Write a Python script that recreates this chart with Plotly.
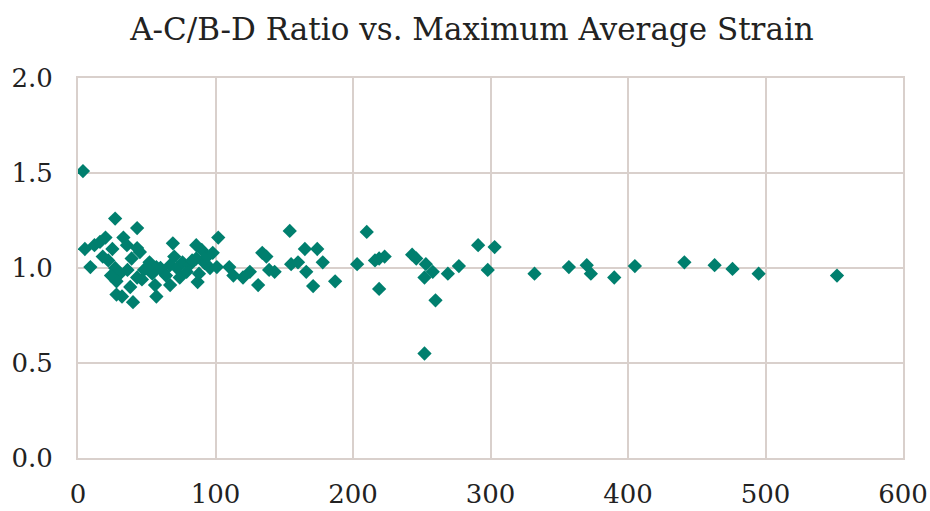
import plotly.graph_objects as go

strain = [
    3.6, 27, 43, 5, 9, 12, 16, 20, 33, 35.6, 43, 45, 69, 86, 102, 18, 22,
    27, 30.5, 36, 39, 28, 43, 46.5, 52, 57, 62, 67, 72, 76, 81, 86, 90, 92, 96, 101,
    56, 67, 74, 87, 28, 32, 40, 57, 110, 113,
    48, 54, 60, 64, 79, 83, 88, 94, 98, 38, 50, 70, 25, 24,
    154, 210, 165, 174, 134, 137, 243, 246, 155, 160, 178, 139, 143, 166, 203,
    216, 219, 223, 291, 303, 253, 258, 269, 277, 298, 252, 120, 125, 131, 171,
    187, 219, 260, 252, 332, 357, 370, 373, 390, 405, 441, 463, 476, 495, 552,
]
ratio = [
    1.51, 1.26, 1.21, 1.10, 1.005, 1.12, 1.137, 1.16, 1.16, 1.12, 1.105, 1.084, 1.13, 1.12, 1.16, 1.06, 1.04,
    1.00, 0.97, 0.99, 1.05, 0.93, 0.95, 0.94, 1.03, 1.005, 0.98, 1.015, 1.00, 1.03, 1.015, 1.05, 1.095, 1.026, 1.00, 1.005,
    0.91, 0.91, 0.95, 0.926, 0.86, 0.85, 0.82, 0.85, 1.005, 0.96,
    0.99, 0.97, 1.00, 0.96, 0.98, 1.04, 0.97, 1.06, 1.08, 0.90, 1.00, 1.06, 1.10, 0.96,
    1.195, 1.19, 1.10, 1.10, 1.08, 1.06, 1.07, 1.05, 1.02, 1.03, 1.03, 0.99, 0.98, 0.98, 1.02,
    1.04, 1.05, 1.06, 1.12, 1.11, 1.02, 0.98, 0.97, 1.01, 0.99, 0.95, 0.95, 0.98, 0.91, 0.905,
    0.93, 0.89, 0.83, 0.55, 0.97, 1.005, 1.015, 0.97, 0.95, 1.01, 1.03, 1.015, 0.995, 0.97, 0.96,
]

x_ticks = [0, 100, 200, 300, 400, 500, 600]
y_ticks = [0.0, 0.5, 1.0, 1.5, 2.0]

fig = go.Figure(go.Scatter(
    x=strain, y=ratio, mode="markers",
    marker=dict(symbol="diamond", size=11, color="#007F6E", line=dict(width=0)),
))

serif = "'DejaVu Serif', 'Liberation Serif', serif"
grid = "#D9D0CC"
fig.update_layout(
    width=930, height=511,
    margin=dict(l=78, r=27, t=78, b=53),
    paper_bgcolor="white", plot_bgcolor="white",
    showlegend=False,
    title=dict(text="A-C/B-D Ratio vs. Maximum Average Strain",
               x=472/930, xanchor="center", y=1 - 29/511, yanchor="middle",
               font=dict(family=serif, size=31, color="#222222")),
    font=dict(family=serif, size=26, color="#222222"),
)
fig.update_xaxes(range=[0, 600], tickvals=x_ticks, ticktext=[str(v) for v in x_ticks],
                 showgrid=True, gridcolor=grid, gridwidth=2, zeroline=False,
                 showline=True, linecolor=grid, linewidth=2, mirror=True,
                 ticks="", ticklabelstandoff=12, automargin=False)
fig.update_yaxes(range=[0, 2.0], tickvals=y_ticks, ticktext=[f"{v:.1f}" for v in y_ticks],
                 showgrid=True, gridcolor=grid, gridwidth=2, zeroline=False,
                 showline=True, linecolor=grid, linewidth=2, mirror=True,
                 ticks="", ticklabelstandoff=18, automargin=False)

fig.write_html("out.html", config={"displayModeBar": False},
               post_script="document.body.style.margin='0';document.body.style.overflow='hidden';")
